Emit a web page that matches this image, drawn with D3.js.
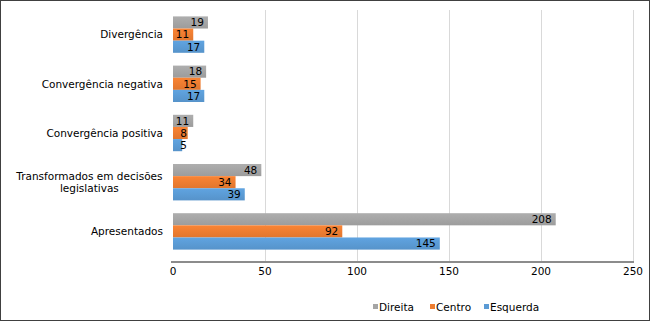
<!DOCTYPE html>
<html>
<head>
<meta charset="utf-8">
<script src="https://cdn.jsdelivr.net/npm/d3@7"></script>
<style>
  body { margin: 0; background: #fff; }
  svg text { font-family: "DejaVu Sans", Verdana, sans-serif; fill: #000; }
</style>
</head>
<body>
<div id="container"></div>
<script>
const width = 650;
const height = 321;
const marginTop = 10;
const marginLeft = 173;
const plotRight = 633;
const plotBottom = 256;
const axisY = 262;
const fontSize = 10.5;

const categories = ["Divergência", "Convergência negativa", "Convergência positiva", "Transformados em decisões\nlegislativas", "Apresentados"];
const series = ["Direita", "Centro", "Esquerda"];
const direita = [19, 18, 11, 48, 208];
const centro = [11, 15, 8, 34, 92];
const esquerda = [17, 17, 5, 39, 145];
const ticks = [0, 50, 100, 150, 200, 250];

const values = {Direita: direita, Centro: centro, Esquerda: esquerda};
const colors = {Direita: "#a5a5a5", Centro: "#ed7d31", Esquerda: "#5b9bd5"};

const x = d3.scaleLinear().domain([0, 250]).range([marginLeft, plotRight]);
const y = d3.scaleBand().domain(categories).range([marginTop, plotBottom]).paddingInner(0.26).paddingOuter(0.13);
const ys = d3.scaleBand().domain(series).range([0, y.bandwidth()]);

const svg = d3.create("svg")
  .attr("width", width)
  .attr("height", height)
  .attr("viewBox", [0, 0, width, height]);
document.getElementById("container").appendChild(svg.node());

// frame
svg.append("rect")
  .attr("x", 0.5).attr("y", 0.5)
  .attr("width", width - 1).attr("height", height - 1)
  .attr("fill", "#fff").attr("stroke", "#404040");

// gridlines
svg.append("g")
  .selectAll("line")
  .data(ticks.slice(1))
  .join("line")
    .attr("x1", d => x(d) + 0.5).attr("x2", d => x(d) + 0.5)
    .attr("y1", marginTop).attr("y2", axisY)
    .attr("stroke", "#d9d9d9");

const defs = svg.append("defs");
series.forEach(s => {
  const g = defs.append("linearGradient")
    .attr("id", "g-" + s).attr("x1", 0).attr("x2", 0).attr("y1", 0).attr("y2", 1);
  const c = d3.color(colors[s]);
  g.append("stop").attr("offset", "0%").attr("stop-color", c.brighter(0.15));
  g.append("stop").attr("offset", "100%").attr("stop-color", c.darker(0.15));
});

const rows = [];
categories.forEach((c, i) => series.forEach(s => rows.push({cat: c, key: s, value: values[s][i]})));

svg.append("g")
  .selectAll("rect")
  .data(rows)
  .join("rect")
    .attr("x", x(0))
    .attr("y", d => y(d.cat) + ys(d.key))
    .attr("width", d => x(d.value) - x(0))
    .attr("height", ys.bandwidth())
    .attr("fill", d => `url(#g-${d.key})`);

svg.append("g")
  .attr("font-size", fontSize)
  .selectAll("text")
  .data(rows)
  .join("text")
    .attr("text-anchor", "end")
    .attr("x", d => Math.max(x(d.value) - 4, x(0) + 14))
    .attr("y", d => y(d.cat) + ys(d.key) + ys.bandwidth() / 2)
    .attr("dy", "0.36em")
    .text(d => d.value);

// axis line
svg.append("line")
  .attr("x1", x(0) - 2).attr("x2", plotRight + 1)
  .attr("y1", axisY).attr("y2", axisY)
  .attr("stroke", "#8c8c8c").attr("stroke-width", 2);

svg.append("g")
  .attr("font-size", fontSize)
  .selectAll("text")
  .data(ticks)
  .join("text")
    .attr("text-anchor", "middle")
    .attr("x", d => x(d))
    .attr("y", axisY + 13)
    .text(d => d);

// category labels: block right-aligned, lines centred within it
const catLabels = svg.append("g")
  .attr("font-size", fontSize)
  .selectAll("text")
  .data(categories)
  .join("text")
    .attr("text-anchor", "middle")
    .attr("y", d => y(d) + y.bandwidth() / 2);

catLabels.each(function(d) {
  const lines = d.split("\n");
  const t = d3.select(this);
  lines.forEach((l, i) => {
    t.append("tspan")
      .attr("x", 0)
      .attr("dy", i === 0 ? `${0.36 - (lines.length - 1) * 0.55}em` : "1.1em")
      .text(l);
  });
  const w = this.getBBox().width;
  t.selectAll("tspan").attr("x", 163 - w / 2);
});

// legend
const legendX = {Direita: 373, Centro: 430, Esquerda: 484};
const legend = svg.append("g").attr("font-size", fontSize);
series.forEach(s => {
  legend.append("rect")
    .attr("x", legendX[s]).attr("y", 304)
    .attr("width", 5).attr("height", 5)
    .attr("fill", colors[s]);
  legend.append("text")
    .attr("x", legendX[s] + 6).attr("y", 307)
    .attr("dy", "0.36em")
    .text(s);
});
</script>
</body>
</html>
